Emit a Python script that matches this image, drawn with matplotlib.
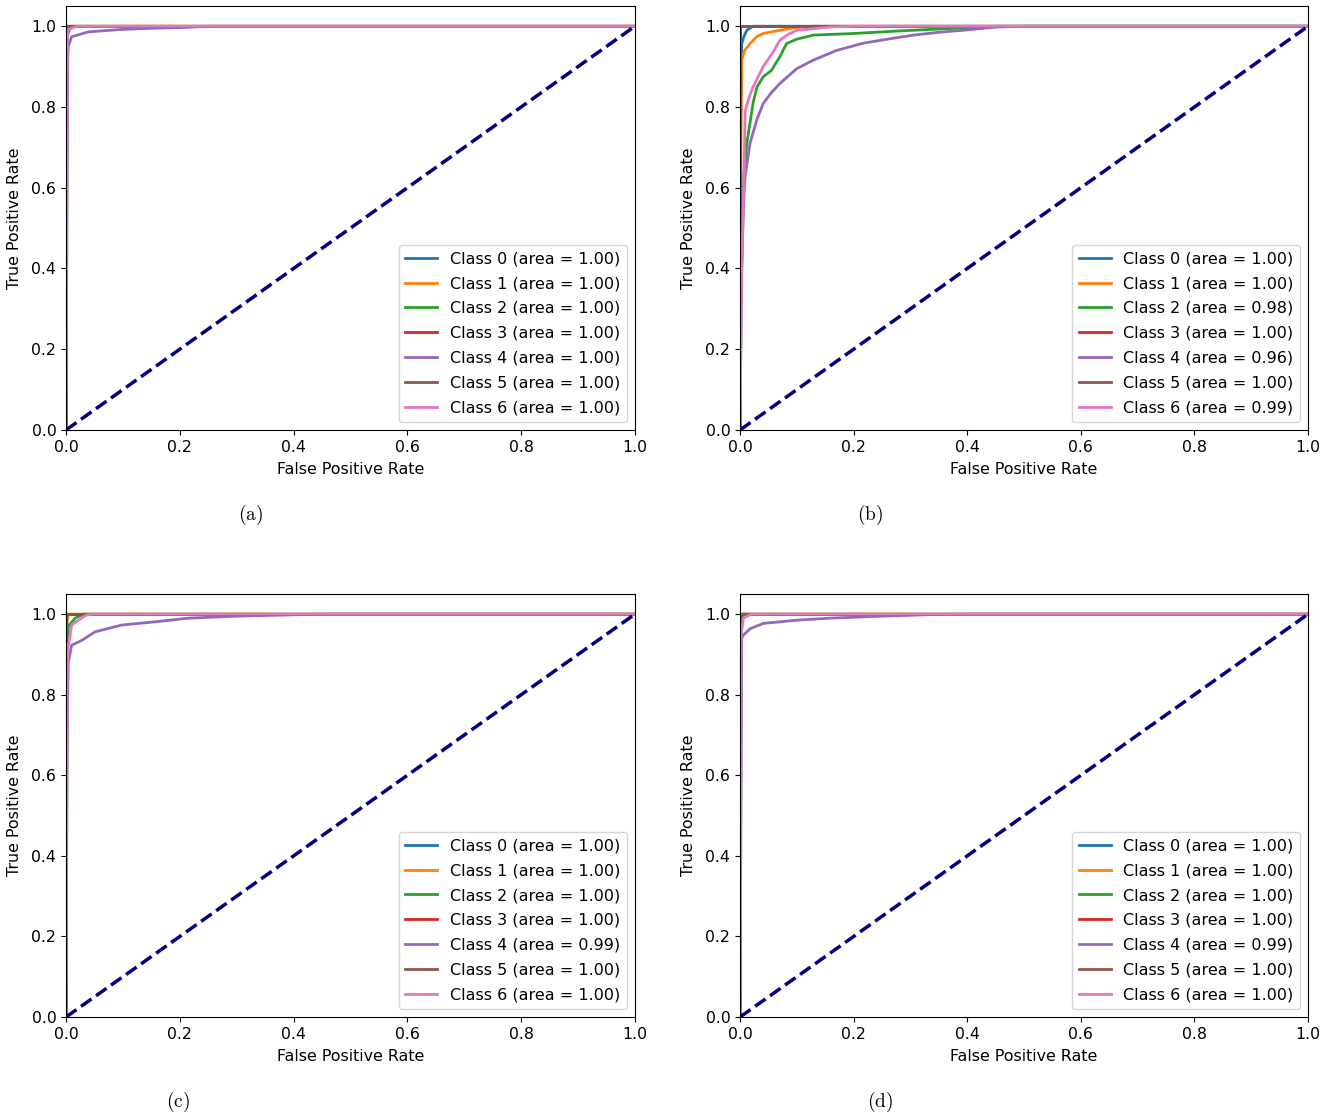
import numpy as np
import matplotlib.pyplot as plt

plt.rcParams['mathtext.fontset'] = 'cm'

classes = ["Class 0", "Class 1", "Class 2", "Class 3", "Class 4", "Class 5", "Class 6"]
colors = ["tab:blue", "tab:orange", "tab:green", "tab:red", "tab:purple", "tab:brown", "tab:pink"]
captions = ["(a)", "(b)", "(c)", "(d)"]

# areas read from the legends
auc_a = [1.00, 1.00, 1.00, 1.00, 1.00, 1.00, 1.00]
auc_b = [1.00, 1.00, 0.98, 1.00, 0.96, 1.00, 0.99]
auc_c = [1.00, 1.00, 1.00, 1.00, 0.99, 1.00, 1.00]
auc_d = [1.00, 1.00, 1.00, 1.00, 0.99, 1.00, 1.00]

# roc points (fpr, tpr)
perfect = ([0, 0, 1], [0, 1, 1])

roc_a = [
    perfect,
    ([0, 0, 0.002, 1], [0, 0.99, 1, 1]),
    ([0, 0.002, 0.004, 0.01, 1], [0, 0.97, 0.985, 1, 1]),
    perfect,
    ([0, 0.002, 0.003, 0.004, 0.01, 0.02, 0.039, 0.098, 0.15, 0.21, 0.25, 1],
     [0, 0.6, 0.92, 0.95, 0.974, 0.978, 0.986, 0.992, 0.995, 0.997, 1, 1]),
    ([0, 0, 1], [0, 1, 1]),
    ([0, 0.002, 0.003, 0.01, 0.02, 1], [0, 0.9, 0.99, 0.995, 1, 1]),
]

roc_b = [
    ([0, 0.001, 0.003, 0.007, 0.012, 0.023, 1], [0, 0.75, 0.957, 0.975, 0.99, 1, 1]),
    ([0, 0.001, 0.002, 0.003, 0.008, 0.018, 0.03, 0.041, 0.07, 0.1, 0.13, 1],
     [0, 0.45, 0.79, 0.916, 0.94, 0.957, 0.975, 0.982, 0.99, 0.997, 1, 1]),
    ([0, 0.002, 0.005, 0.0065, 0.012, 0.023, 0.03, 0.041, 0.055, 0.07, 0.082, 0.1, 0.129,
      0.2, 0.276, 0.364, 0.45, 1],
     [0, 0.35, 0.5, 0.627, 0.71, 0.81, 0.85, 0.875, 0.89, 0.924, 0.957, 0.968, 0.978,
      0.982, 0.988, 0.994, 1, 1]),
    perfect,
    ([0, 0.002, 0.004, 0.0088, 0.0176, 0.03, 0.041, 0.055, 0.07, 0.1, 0.129, 0.17, 0.217, 0.26,
      0.305, 0.35, 0.393, 0.452, 0.5, 1],
     [0, 0.3, 0.5, 0.627, 0.71, 0.77, 0.809, 0.835, 0.858, 0.895, 0.916, 0.94, 0.958, 0.968,
      0.978, 0.985, 0.99, 0.998, 1, 1]),
    perfect,
    ([0, 0.003, 0.007, 0.009, 0.015, 0.023, 0.041, 0.06, 0.07, 0.085, 0.1, 0.159, 0.2, 1],
     [0, 0.4, 0.63, 0.79, 0.82, 0.85, 0.90, 0.94, 0.965, 0.98, 0.99, 0.998, 1, 1]),
]

roc_c = [
    perfect,
    ([0, 0.001, 0.004, 1], [0, 0.97, 1, 1]),
    ([0, 0.002, 0.004, 0.016, 0.03, 1], [0, 0.9, 0.97, 0.99, 1, 1]),
    perfect,
    ([0, 0.002, 0.003, 0.004, 0.01, 0.028, 0.051, 0.098, 0.157, 0.215, 0.30, 0.39, 0.45, 1],
     [0, 0.65, 0.8, 0.88, 0.923, 0.935, 0.956, 0.973, 0.981, 0.99, 0.995, 0.998, 1, 1]),
    perfect,
    ([0, 0.002, 0.004, 0.01, 0.022, 0.036, 0.045, 1], [0, 0.85, 0.92, 0.973, 0.985, 0.998, 1, 1]),
]

roc_d = [
    perfect,
    ([0, 0.001, 0.003, 1], [0, 0.98, 1, 1]),
    ([0, 0.002, 0.005, 1], [0, 0.97, 1, 1]),
    perfect,
    ([0, 0.002, 0.003, 0.006, 0.018, 0.041, 0.1, 0.158, 0.25, 0.34, 0.4, 1],
     [0, 0.6, 0.94, 0.948, 0.964, 0.977, 0.985, 0.99, 0.995, 0.999, 1, 1]),
    perfect,
    ([0, 0.002, 0.006, 0.02, 1], [0, 0.95, 0.99, 1, 1]),
]

all_roc = [roc_a, roc_b, roc_c, roc_d]
all_auc = [auc_a, auc_b, auc_c, auc_d]

fig = plt.figure(figsize=(13.25, 11.18), dpi=100)
positions = [
    [0.0498, 0.6154, 0.4294, 0.3792],
    [0.5585, 0.6154, 0.4287, 0.3792],
    [0.0498, 0.0903, 0.4294, 0.3784],
    [0.5585, 0.0903, 0.4287, 0.3784],
]
cap_xy = [(0.189, 0.539), (0.657, 0.539), (0.134, 0.0143), (0.664, 0.0143)]

for k in range(4):
    ax = fig.add_axes(positions[k])
    for i in range(7):
        fpr, tpr = all_roc[k][i]
        ax.plot(fpr, tpr, color=colors[i], lw=2,
                label="%s (area = %.2f)" % (classes[i], all_auc[k][i]))
    ax.plot([0, 1], [0, 1], color="navy", lw=2.5, linestyle="--")
    ax.set_xlim(0.0, 1.0)
    ax.set_ylim(0.0, 1.05)
    ax.tick_params(labelsize=11.3)
    ax.set_xlabel("False Positive Rate", fontsize=11.4, labelpad=5)
    ax.set_ylabel("True Positive Rate", fontsize=11.4, labelpad=7)
    ax.legend(loc="lower right", fontsize=11.5, labelspacing=0.62)
    fig.text(cap_xy[k][0], cap_xy[k][1], r"$\mathrm{%s}$" % captions[k],
             fontsize=14, ha="center", va="center")

fig.savefig("out.png", dpi=100)
